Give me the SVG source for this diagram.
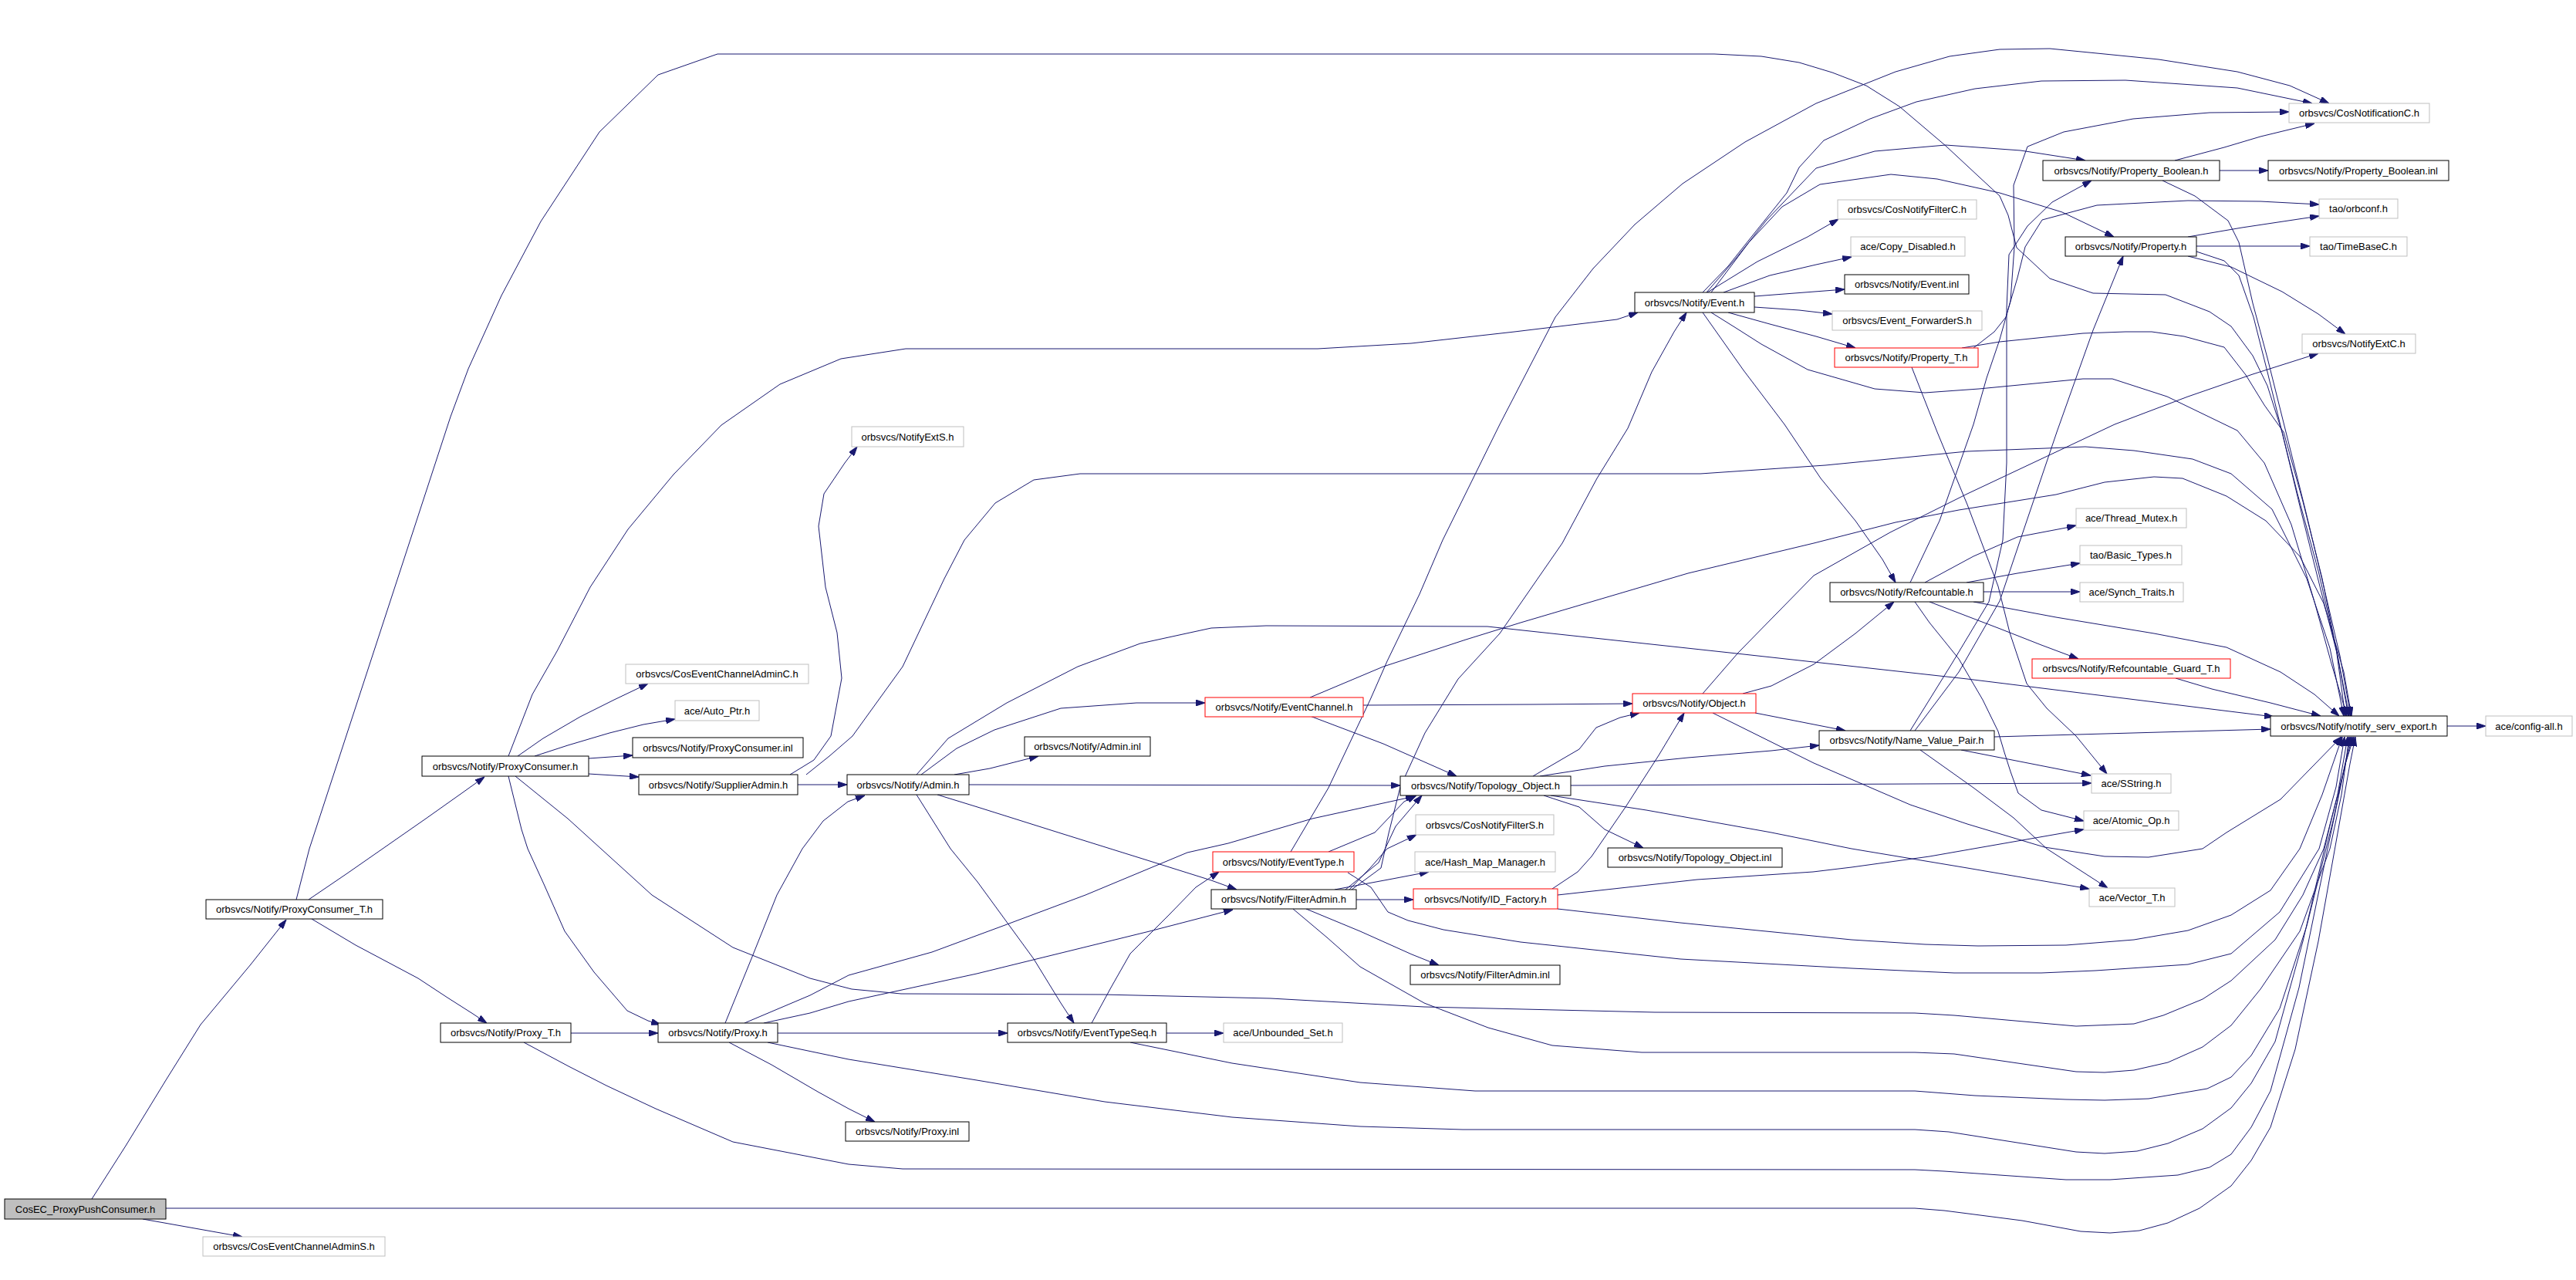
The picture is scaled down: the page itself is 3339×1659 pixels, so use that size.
<svg xmlns="http://www.w3.org/2000/svg" width="3339" height="1659" viewBox="0 0 3339 1659">
<style>
rect{fill:#fff;stroke:#000;stroke-width:1}
rect.g{stroke:#bfbfbf}
rect.r{stroke:#f00}
rect.root{fill:#bfbfbf}
text{font-family:"Liberation Sans",Arial,sans-serif;font-size:13px;text-anchor:middle;fill:#000}
#connectors path{fill:none;stroke:#191970;stroke-width:1;marker-end:url(#a)}
</style>
<defs>
<marker id="a" viewBox="0 0 12 8" refX="12" refY="4" markerWidth="12" markerHeight="8" markerUnits="userSpaceOnUse" orient="auto"><path d="M0,0 L12,4 L0,8 z" fill="#191970" stroke="#191970"/></marker>
</defs>
<rect x="0" y="0" width="3339" height="1659" style="fill:#fff;stroke:none"/>
<g id="connectors">
<path d="M119,1554 L163,1485 L215,1400 L260,1328 L325,1250 L371,1192"/>
<path d="M185,1580 L314,1603"/>
<path d="M215,1566 L2482,1566 L2520,1569 L2621,1582 L2697,1596 L2735,1598 L2773,1595 L2810,1585 L2851,1566 L2892,1537 L2918,1504 L2943,1461 L2975,1360 L3005,1220 L3030,1080 L3046,990 L3053,955"/>
<path d="M400,1166 L450,1132 L496,1100 L552,1061 L600,1027 L628,1007"/>
<path d="M404,1191 L461,1225 L542,1268 L580,1293 L613,1314 L631,1326"/>
<path d="M384,1166 L401,1100 L584,540 L607,478 L650,383 L701,287 L777,171 L853,97 L930,70 L2222,70 L2283,73 L2332,81 L2375,94 L2419,111 L2462,138 L2522,189 L2565,229 L2592,254 L2603,279 L2614,321 L2657,361 L2713,380 L2807,382 L2864,404 L2892,423 L2920,461 L2939,500 L2958,560 L2978,640 L3005,740 L3028,840 L3040,928"/>
<path d="M671,980 L704,957 L752,929 L796,907 L840,886"/>
<path d="M693,980 L736,966 L790,950 L834,939 L875,932"/>
<path d="M763,983 L820,979"/>
<path d="M763,1003 L828,1007"/>
<path d="M659,980 L690,900 L722,844 L765,761 L814,686 L873,615 L935,551 L1011,498 L1090,465 L1174,452 L1708,452 L1829,445 L1963,430 L2096,414 L2123,405"/>
<path d="M659,1006 L676,1075 L684,1100 L705,1146 L732,1207 L770,1260 L813,1310 L840,1323 L856,1328"/>
<path d="M668,1006 L736,1061 L845,1160 L950,1228 L1050,1268 L1104,1282 L1168,1288 L1429,1289 L1647,1294 L1846,1305 L2145,1312 L2482,1313 L2533,1316 L2691,1330 L2766,1327 L2804,1316 L2855,1295 L2892,1271 L2949,1218 L2985,1160 L3012,1100 L3030,1030 L3043,955"/>
<path d="M740,1339 L853,1339"/>
<path d="M679,1351 L737,1382 L786,1407 L850,1437 L950,1480 L1100,1509 L1170,1515 L2482,1516 L2520,1518 L2678,1529 L2735,1529 L2823,1523 L2864,1513 L2892,1496 L2918,1461 L2943,1414 L2980,1280 L3015,1110 L3040,990 L3051,955"/>
<path d="M1008,1339 L1306,1339"/>
<path d="M945,1351 L1000,1380 L1060,1415 L1100,1437 L1134,1454"/>
<path d="M995,1351 L1100,1373 L1266,1400 L1432,1428 L1597,1448 L1763,1460 L1896,1464 L2482,1464 L2526,1467 L2691,1493 L2728,1495 L2770,1492 L2810,1482 L2855,1463 L2892,1436 L2918,1404 L2949,1350 L2985,1220 L3020,1070 L3049,955"/>
<path d="M990,1326 L1050,1313 L1100,1298 L1266,1262 L1490,1207 L1598,1179"/>
<path d="M965,1326 L1050,1290 L1100,1264 L1208,1234 L1300,1200 L1407,1160 L1539,1105 L1592,1093 L1701,1061 L1834,1032"/>
<path d="M940,1326 L975,1240 L1007,1160 L1040,1100 L1067,1064 L1099,1039 L1121,1031"/>
<path d="M1034,1017 L1098,1017"/>
<path d="M1024,1004 L1055,985 L1077,954 L1091,879 L1085,820 L1070,761 L1061,682 L1068,640 L1095,600 L1111,579"/>
<path d="M1045,1004 L1075,980 L1105,954 L1170,864 L1224,750 L1250,700 L1290,652 L1340,622 L1400,614 L2204,614 L2366,603 L2550,585 L2703,579 L2766,584 L2842,595 L2892,614 L2945,660 L2990,750 L3020,840 L3038,928"/>
<path d="M1237,1004 L1283,996 L1346,980"/>
<path d="M1194,1004 L1240,970 L1289,946 L1375,918 L1473,911 L1562,911"/>
<path d="M1188,1004 L1229,957 L1305,911 L1397,864 L1478,834 L1570,814 L1641,811 L1928,812 L2242,846 L2550,880 L2947,929"/>
<path d="M1256,1017 L1815,1018"/>
<path d="M1215,1030 L1267,1046 L1375,1080 L1484,1114 L1570,1141 L1603,1153"/>
<path d="M1188,1030 L1232,1100 L1267,1143 L1340,1243 L1375,1300 L1392,1326"/>
<path d="M1767,914 L1987,913 L2116,912"/>
<path d="M1698,928 L1793,964 L1888,1006"/>
<path d="M1698,904 L1793,864 L1900,829 L1971,807 L2188,743 L2351,704 L2457,677 L2539,661 L2665,641 L2728,625 L2792,618 L2829,620 L2886,643 L2937,675 L2981,721 L3012,782 L3038,871 L3048,928"/>
<path d="M1987,1006 L2047,971 L2069,943 L2100,930 L2125,924"/>
<path d="M1996,1006 L2080,993 L2188,982 L2296,973 L2358,966"/>
<path d="M2036,1018 L2711,1015"/>
<path d="M2001,1031 L2047,1046 L2080,1075 L2130,1099"/>
<path d="M2010,1031 L2134,1050 L2296,1079 L2400,1100 L2550,1125 L2708,1152"/>
<path d="M1722,1104 L1782,1079 L1820,1039 L1836,1031"/>
<path d="M1673,1104 L1722,1021 L1776,907 L1798,857 L1840,770 L1870,700 L1944,550 L2016,411 L2065,348 L2119,291 L2181,238 L2262,184 L2354,134 L2457,93 L2527,73 L2592,64 L2657,63 L2728,70 L2798,77 L2900,93 L2968,111 L3019,134"/>
<path d="M1747,1131 L1777,1150 L1799,1182 L1825,1193 L1871,1205 L1971,1221 L2178,1243 L2400,1255 L2533,1261 L2646,1261 L2716,1258 L2836,1250 L2892,1236 L2955,1182 L3006,1100 L3028,1020 L3039,955"/>
<path d="M1758,1166 L1832,1166"/>
<path d="M1730,1153 L1805,1139 L1852,1130"/>
<path d="M1749,1153 L1776,1125 L1798,1100 L1836,1082"/>
<path d="M1744,1153 L1787,1118 L1809,1071 L1843,1031"/>
<path d="M1752,1153 L1790,1125 L1800,1080 L1815,1020 L1847,950 L1890,880 L1944,821 L2025,704 L2070,620 L2110,555 L2141,482 L2170,430 L2186,405"/>
<path d="M1693,1178 L1763,1207 L1830,1237 L1865,1251"/>
<path d="M1676,1178 L1720,1215 L1763,1253 L1846,1300 L1929,1332 L2012,1355 L2128,1364 L2482,1364 L2533,1366 L2691,1389 L2728,1390 L2766,1387 L2810,1377 L2855,1357 L2892,1329 L2930,1282 L2981,1207 L3020,1100 L3035,1030 L3045,955"/>
<path d="M2012,1152 L2045,1130 L2063,1110 L2107,1046 L2150,979 L2183,924"/>
<path d="M2019,1160 L2200,1140 L2350,1130 L2400,1124 L2501,1110 L2701,1075"/>
<path d="M2019,1178 L2178,1196 L2400,1218 L2495,1224 L2564,1226 L2678,1225 L2766,1218 L2836,1206 L2892,1186 L2943,1154 L2981,1100 L3010,1030 L3036,955"/>
<path d="M1512,1339 L1586,1339"/>
<path d="M1415,1326 L1440,1280 L1465,1236 L1515,1186 L1550,1150 L1580,1130"/>
<path d="M1465,1351 L1597,1378 L1763,1403 L1912,1414 L2482,1414 L2560,1420 L2678,1425 L2728,1426 L2785,1424 L2861,1411 L2892,1396 L2918,1368 L2955,1307 L2990,1200 L3025,1060 L3047,955"/>
<path d="M2259,899 L2296,889 L2351,861 L2405,821 L2455,780"/>
<path d="M2275,924 L2392,947"/>
<path d="M2207,899 L2253,846 L2351,746 L2450,690 L2550,640 L2741,550 L2836,514 L2920,485 L3005,458"/>
<path d="M2220,924 L2351,989 L2476,1043 L2550,1068 L2650,1098 L2728,1110 L2785,1111 L2855,1100 L2886,1079 L2956,1036 L3035,955"/>
<path d="M2585,955 L2943,945"/>
<path d="M2542,972 L2710,1005"/>
<path d="M2489,972 L2558,1021 L2610,1060 L2653,1100 L2732,1151"/>
<path d="M2482,947 L2539,871 L2592,779 L2621,693 L2666,560 L2713,428 L2752,332"/>
<path d="M2476,947 L2530,860 L2578,780 L2596,700 L2601,600 L2601,400 L2604,330 L2628,293 L2660,262 L2711,234"/>
<path d="M2495,755 L2558,721 L2615,696 L2678,684 L2691,681"/>
<path d="M2549,755 L2615,743 L2696,730"/>
<path d="M2571,767 L2696,767"/>
<path d="M2501,780 L2590,814 L2646,836 L2694,854"/>
<path d="M2558,780 L2665,800 L2792,821 L2886,839 L2956,871 L3000,900 L3032,928"/>
<path d="M2482,780 L2501,807 L2539,854 L2570,907 L2590,948 L2598,975 L2606,1000 L2616,1028 L2646,1050 L2701,1064"/>
<path d="M2476,755 L2514,675 L2558,550 L2575,490 L2592,440 L2606,390 L2611,320 L2610,240 L2628,190 L2675,171 L2765,154 L2864,146 L2967,145"/>
<path d="M2820,879 L2867,893 L2943,911 L3008,928"/>
<path d="M3172,941 L3222,941"/>
<path d="M2207,379 L2240,345 L2267,311 L2300,270 L2316,250 L2332,217 L2364,182 L2424,154 L2484,132 L2560,115 L2646,105 L2755,104 L2900,114 L2997,134"/>
<path d="M2212,379 L2250,335 L2290,285 L2354,218 L2430,196 L2522,188 L2619,195 L2703,208"/>
<path d="M2218,379 L2267,314 L2310,268 L2359,239 L2451,226 L2511,232 L2592,250 L2673,275 L2740,307"/>
<path d="M2213,379 L2278,339 L2343,307 L2383,284"/>
<path d="M2234,379 L2294,357 L2354,343 L2400,333"/>
<path d="M2274,384 L2391,375"/>
<path d="M2274,398 L2332,402 L2375,407"/>
<path d="M2240,405 L2294,420 L2354,436 L2405,451"/>
<path d="M2207,405 L2260,480 L2313,550 L2360,620 L2405,675 L2440,725 L2457,755"/>
<path d="M2218,405 L2250,425 L2283,446 L2343,479 L2430,504 L2495,509 L2565,504 L2700,491 L2738,491 L2809,514 L2900,558 L2935,600 L2970,680 L3000,780 L3022,860 L3042,928"/>
<path d="M2478,476 L2511,560 L2550,654 L2590,760 L2605,820 L2627,886 L2653,918 L2691,954 L2731,1003"/>
<path d="M2543,451 L2592,443 L2700,432 L2755,430 L2789,430 L2831,436 L2883,450 L2911,486 L2935,525 L2960,560 L2985,650 L3010,750 L3030,850 L3044,928"/>
<path d="M2558,451 L2585,430 L2600,411 L2615,360 L2625,320 L2647,285 L2718,266 L2836,260 L2930,261 L3006,265"/>
<path d="M2819,208 L2883,191 L2930,177 L3000,160"/>
<path d="M2877,221 L2940,221"/>
<path d="M2803,234 L2845,254 L2888,286 L2902,314 L2920,393 L2939,464 L2963,560 L2988,660 L3012,760 L3033,850 L3047,928"/>
<path d="M2836,307 L2906,295 L3006,280"/>
<path d="M2847,319 L2994,319"/>
<path d="M2836,332 L2892,346 L2958,378 L3005,407 L3040,433"/>
<path d="M2847,326 L2883,338 L2902,357 L2921,411 L2939,482 L2958,560 L2982,660 L3007,760 L3030,850 L3045,928"/>
</g>
<g id="n_root"><rect class="root" x="6" y="1554" width="209" height="26"/><text x="110.5" y="1571.5">CosEC_ProxyPushConsumer.h</text></g>
<g id="n_cecas"><rect class="g" x="263" y="1603" width="236" height="25"/><text x="381" y="1620">orbsvcs/CosEventChannelAdminS.h</text></g>
<g id="n_pct"><rect x="267" y="1166" width="229" height="25"/><text x="381.5" y="1183">orbsvcs/Notify/ProxyConsumer_T.h</text></g>
<g id="n_proxyt"><rect x="571" y="1326" width="169" height="25"/><text x="655.5" y="1343">orbsvcs/Notify/Proxy_T.h</text></g>
<g id="n_pc"><rect x="547" y="980" width="216" height="26"/><text x="655" y="997.5">orbsvcs/Notify/ProxyConsumer.h</text></g>
<g id="n_cecac"><rect class="g" x="811" y="861" width="237" height="25"/><text x="929.5" y="878">orbsvcs/CosEventChannelAdminC.h</text></g>
<g id="n_autoptr"><rect class="g" x="875" y="908" width="109" height="26"/><text x="929.5" y="925.5">ace/Auto_Ptr.h</text></g>
<g id="n_pcinl"><rect x="820" y="956" width="221" height="26"/><text x="930.5" y="973.5">orbsvcs/Notify/ProxyConsumer.inl</text></g>
<g id="n_sadmin"><rect x="828" y="1004" width="206" height="26"/><text x="931" y="1021.5">orbsvcs/Notify/SupplierAdmin.h</text></g>
<g id="n_admin"><rect x="1098" y="1004" width="158" height="26"/><text x="1177" y="1021.5">orbsvcs/Notify/Admin.h</text></g>
<g id="n_admininl"><rect x="1328" y="955" width="163" height="25"/><text x="1409.5" y="972">orbsvcs/Notify/Admin.inl</text></g>
<g id="n_ec"><rect class="r" x="1562" y="904" width="205" height="25"/><text x="1664.5" y="921">orbsvcs/Notify/EventChannel.h</text></g>
<g id="n_topo"><rect x="1815" y="1006" width="221" height="25"/><text x="1925.5" y="1023">orbsvcs/Notify/Topology_Object.h</text></g>
<g id="n_et"><rect class="r" x="1572" y="1104" width="183" height="26"/><text x="1663.5" y="1121.5">orbsvcs/Notify/EventType.h</text></g>
<g id="n_fa"><rect x="1570" y="1153" width="188" height="25"/><text x="1664" y="1170">orbsvcs/Notify/FilterAdmin.h</text></g>
<g id="n_cnfs"><rect class="g" x="1835" y="1056" width="179" height="26"/><text x="1924.5" y="1073.5">orbsvcs/CosNotifyFilterS.h</text></g>
<g id="n_hash"><rect class="g" x="1834" y="1104" width="182" height="26"/><text x="1925" y="1121.5">ace/Hash_Map_Manager.h</text></g>
<g id="n_idf"><rect class="r" x="1832" y="1152" width="187" height="26"/><text x="1925.5" y="1169.5">orbsvcs/Notify/ID_Factory.h</text></g>
<g id="n_fainl"><rect x="1828" y="1251" width="194" height="25"/><text x="1925" y="1268">orbsvcs/Notify/FilterAdmin.inl</text></g>
<g id="n_topoinl"><rect x="2084" y="1099" width="226" height="25"/><text x="2197" y="1116">orbsvcs/Notify/Topology_Object.inl</text></g>
<g id="n_obj"><rect class="r" x="2116" y="899" width="160" height="25"/><text x="2196" y="916">orbsvcs/Notify/Object.h</text></g>
<g id="n_ref"><rect x="2372" y="755" width="199" height="25"/><text x="2471.5" y="772">orbsvcs/Notify/Refcountable.h</text></g>
<g id="n_nvp"><rect x="2358" y="947" width="227" height="25"/><text x="2471.5" y="964">orbsvcs/Notify/Name_Value_Pair.h</text></g>
<g id="n_event"><rect x="2119" y="379" width="155" height="26"/><text x="2196.5" y="396.5">orbsvcs/Notify/Event.h</text></g>
<g id="n_cnfc"><rect class="g" x="2382" y="259" width="180" height="25"/><text x="2472" y="276">orbsvcs/CosNotifyFilterC.h</text></g>
<g id="n_copyd"><rect class="g" x="2399" y="307" width="148" height="25"/><text x="2473" y="324">ace/Copy_Disabled.h</text></g>
<g id="n_eventinl"><rect x="2391" y="356" width="161" height="25"/><text x="2471.5" y="373">orbsvcs/Notify/Event.inl</text></g>
<g id="n_efs"><rect class="g" x="2375" y="403" width="194" height="25"/><text x="2472" y="420">orbsvcs/Event_ForwarderS.h</text></g>
<g id="n_propt"><rect class="r" x="2378" y="451" width="186" height="25"/><text x="2471" y="468">orbsvcs/Notify/Property_T.h</text></g>
<g id="n_pb"><rect x="2648" y="208" width="229" height="26"/><text x="2762.5" y="225.5">orbsvcs/Notify/Property_Boolean.h</text></g>
<g id="n_prop"><rect x="2677" y="307" width="170" height="25"/><text x="2762" y="324">orbsvcs/Notify/Property.h</text></g>
<g id="n_cnc"><rect class="g" x="2967" y="134" width="182" height="25"/><text x="3058" y="151">orbsvcs/CosNotificationC.h</text></g>
<g id="n_pbinl"><rect x="2940" y="208" width="234" height="26"/><text x="3057" y="225.5">orbsvcs/Notify/Property_Boolean.inl</text></g>
<g id="n_orbconf"><rect class="g" x="3006" y="258" width="102" height="25"/><text x="3057" y="275">tao/orbconf.h</text></g>
<g id="n_tbc"><rect class="g" x="2994" y="307" width="126" height="25"/><text x="3057" y="324">tao/TimeBaseC.h</text></g>
<g id="n_nec"><rect class="g" x="2984" y="433" width="147" height="25"/><text x="3057.5" y="450">orbsvcs/NotifyExtC.h</text></g>
<g id="n_tm"><rect class="g" x="2691" y="659" width="143" height="25"/><text x="2762.5" y="676">ace/Thread_Mutex.h</text></g>
<g id="n_bt"><rect class="g" x="2696" y="707" width="132" height="25"/><text x="2762" y="724">tao/Basic_Types.h</text></g>
<g id="n_st"><rect class="g" x="2696" y="755" width="134" height="25"/><text x="2763" y="772">ace/Synch_Traits.h</text></g>
<g id="n_rgt"><rect class="r" x="2634" y="854" width="257" height="25"/><text x="2762.5" y="871">orbsvcs/Notify/Refcountable_Guard_T.h</text></g>
<g id="n_nse"><rect x="2943" y="928" width="229" height="26"/><text x="3057.5" y="945.5">orbsvcs/Notify/notify_serv_export.h</text></g>
<g id="n_cfg"><rect class="g" x="3222" y="928" width="112" height="26"/><text x="3278" y="945.5">ace/config-all.h</text></g>
<g id="n_sstr"><rect class="g" x="2711" y="1003" width="103" height="25"/><text x="2762.5" y="1020">ace/SString.h</text></g>
<g id="n_aop"><rect class="g" x="2701" y="1051" width="123" height="25"/><text x="2762.5" y="1068">ace/Atomic_Op.h</text></g>
<g id="n_vec"><rect class="g" x="2708" y="1151" width="111" height="24"/><text x="2763.5" y="1167.5">ace/Vector_T.h</text></g>
<g id="n_proxy"><rect x="853" y="1326" width="155" height="25"/><text x="930.5" y="1343">orbsvcs/Notify/Proxy.h</text></g>
<g id="n_ets"><rect x="1306" y="1326" width="206" height="25"/><text x="1409" y="1343">orbsvcs/Notify/EventTypeSeq.h</text></g>
<g id="n_us"><rect class="g" x="1586" y="1326" width="154" height="25"/><text x="1663" y="1343">ace/Unbounded_Set.h</text></g>
<g id="n_proxyinl"><rect x="1096" y="1454" width="160" height="25"/><text x="1176" y="1471">orbsvcs/Notify/Proxy.inl</text></g>
<g id="n_nes"><rect class="g" x="1104" y="553" width="145" height="26"/><text x="1176.5" y="570.5">orbsvcs/NotifyExtS.h</text></g>
</svg>
